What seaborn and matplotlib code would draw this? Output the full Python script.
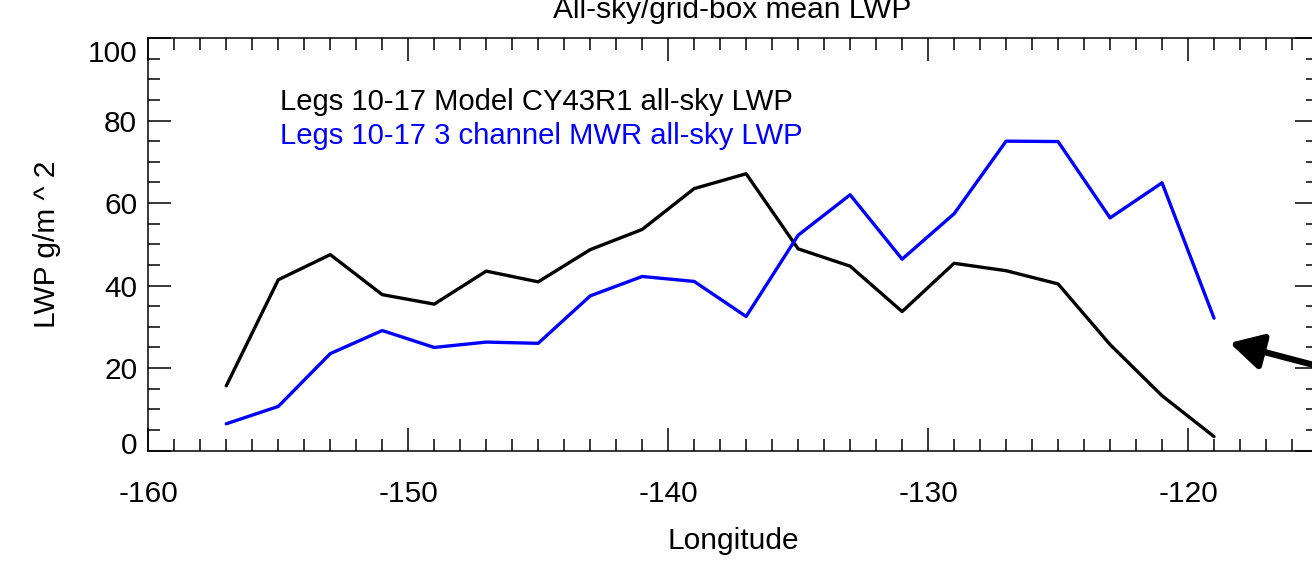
import matplotlib
matplotlib.use("Agg")
import matplotlib.pyplot as plt
import matplotlib.patheffects as pe
import matplotlib.transforms as mtransforms
from matplotlib.ticker import MultipleLocator
import seaborn as sns
import pandas as pd

longitude = [-157, -155, -153, -151, -149, -147, -145, -143, -141, -139,
             -137, -135, -133, -131, -129, -127, -125, -123, -121, -119]
model_lwp = [15.7, 41.4, 47.5, 37.8, 35.5, 43.5, 40.9, 48.7, 53.6, 63.5,
             67.1, 48.9, 44.7, 33.7, 45.4, 43.6, 40.4, 25.7, 13.3, 3.4]
mwr_lwp = [6.5, 10.7, 23.5, 29.1, 25.0, 26.3, 26.0, 37.5, 42.2, 41.0,
           32.5, 52.2, 62.0, 46.4, 57.4, 75.0, 74.9, 56.4, 64.9, 32.1]

label_model = "Legs 10-17 Model CY43R1 all-sky LWP"
label_mwr = "Legs 10-17 3 channel MWR all-sky LWP"
title = "All-sky/grid-box mean LWP"
xlabel = "Longitude"
ylabel = "LWP g/m ^ 2"
xticks = [-160, -150, -140, -130, -120]
yticks = [0, 20, 40, 60, 80, 100]

sns.set_theme(style="ticks")
plt.rcParams['font.family'] = ['Liberation Sans', 'DejaVu Sans']

W, H = 1312, 561
fig = plt.figure(figsize=(W / 100, H / 100), dpi=100)
left, right, top, bottom = 148.3, 1318.0, 38.0, 450.6
ax = fig.add_axes([left / W, 1 - bottom / H, (right - left) / W, (bottom - top) / H])

df_model = pd.DataFrame({"lon": longitude, "lwp": model_lwp})
df_mwr = pd.DataFrame({"lon": longitude, "lwp": mwr_lwp})
sns.lineplot(data=df_model, x="lon", y="lwp", ax=ax, color="black", lw=2.4, estimator=None)
sns.lineplot(data=df_mwr, x="lon", y="lwp", ax=ax, color="#0000ff", lw=2.4, estimator=None)

ax.set_xlim(-160, -115)
ax.set_ylim(0, 100)
ax.set_xticks(xticks)
ax.set_xticklabels([str(t) for t in xticks])
ax.set_yticks(yticks)
ax.set_yticklabels([str(t) for t in yticks])
ax.xaxis.set_minor_locator(MultipleLocator(1))
ax.yaxis.set_minor_locator(MultipleLocator(5))

for s in ax.spines.values():
    s.set_visible(True)
    s.set_linewidth(1.1)
    s.set_color("black")

ax.tick_params(axis="both", which="both", direction="in", top=True, right=True,
               colors="black", width=1.1, labelsize=21.5)
ax.tick_params(axis="both", which="major", length=16.5)
ax.tick_params(axis="both", which="minor", length=8.5)
ax.tick_params(axis="x", which="major", pad=21)
ax.tick_params(axis="y", which="major", pad=8)

# IDL-style placement of the end labels on the y axis
ylabels = ax.get_yticklabels()
ylabels[-1].set_transform(ylabels[-1].get_transform() +
                          mtransforms.ScaledTranslation(0, -13 / 100, fig.dpi_scale_trans))
ylabels[0].set_transform(ylabels[0].get_transform() +
                         mtransforms.ScaledTranslation(0, 8 / 100, fig.dpi_scale_trans))

ax.set_xlabel(xlabel, fontsize=21.5, color="black")
ax.set_ylabel(ylabel, fontsize=21.5, color="black")
ax.xaxis.set_label_coords(0.5, -0.185)
ax.yaxis.set_label_coords((47 - left) / (right - left), 0.5)
ax.yaxis.label.set_va("center")

ax.text((280 - left) / (right - left), (bottom - 102.5) / (bottom - top), label_model,
        transform=ax.transAxes, fontsize=21.1, color="black", va="center", ha="left")
ax.text((280 - left) / (right - left), (bottom - 136.5) / (bottom - top), label_mwr,
        transform=ax.transAxes, fontsize=21.1, color="#0000ff", va="center", ha="left")

fig.text(732 / W, 1 - 18 / H, title, fontsize=21.5, color="black", ha="center", va="baseline")

ann = ax.annotate("", xy=(-118.4, 26.1), xytext=(-113.5, 18.0),
                  xycoords="data", textcoords="data",
                  arrowprops=dict(arrowstyle="-|>,head_length=1.65,head_width=0.9",
                                  lw=4.5, color="black", shrinkA=0, shrinkB=0,
                                  path_effects=[pe.SimplePatchShadow(offset=(2, -2), alpha=0.35),
                                                pe.Normal()]),
                  annotation_clip=False)
ann.arrow_patch.set_clip_on(False)

fig.savefig("out.png", dpi=100)
